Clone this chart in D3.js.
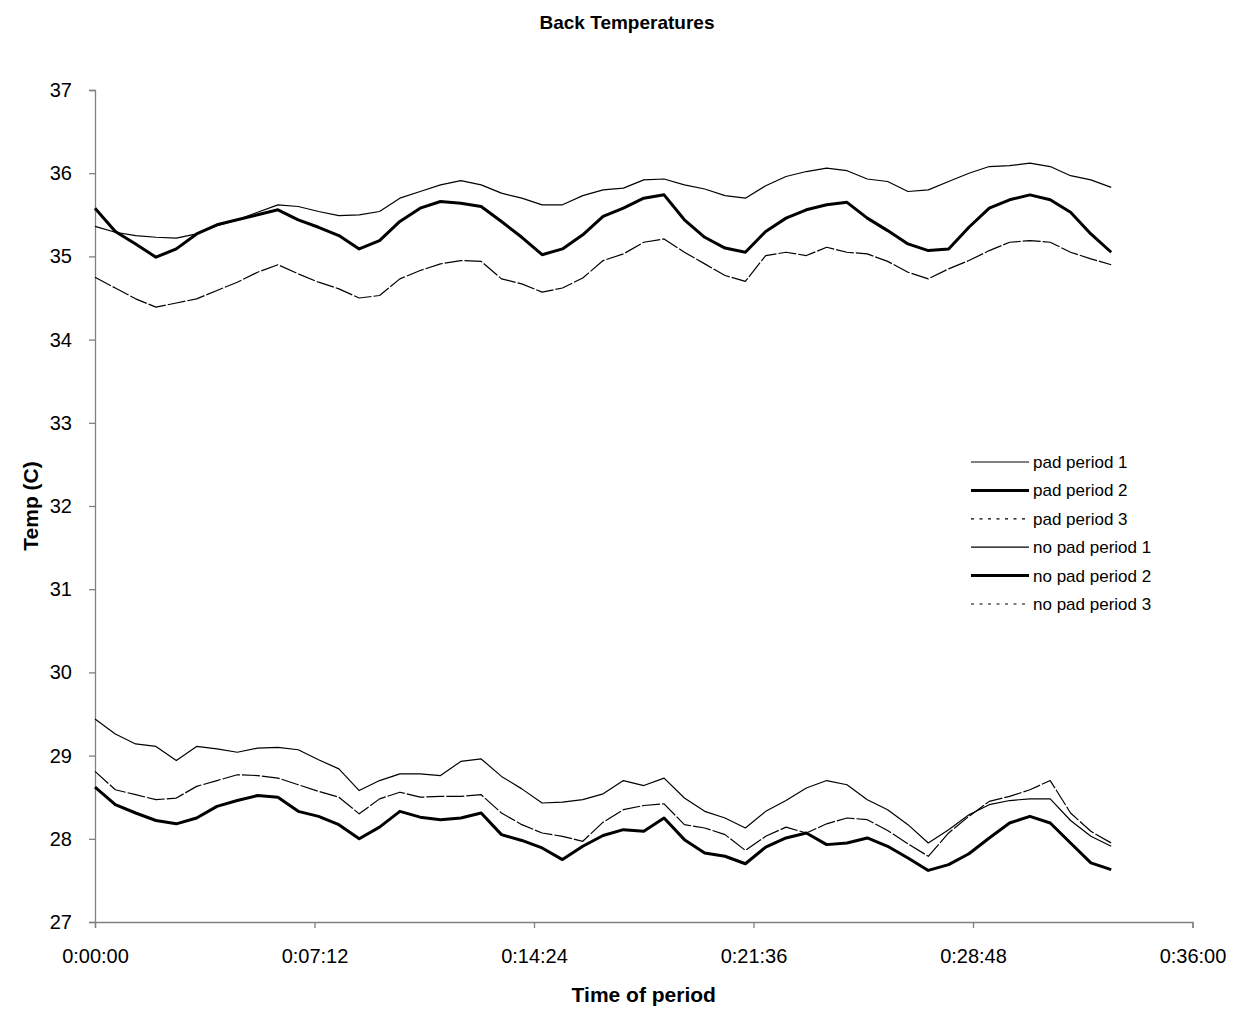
<!DOCTYPE html>
<html>
<head>
<meta charset="utf-8">
<script src="https://cdn.jsdelivr.net/npm/d3@7"></script>
<style>
  html, body { margin: 0; padding: 0; background: #fff; }
  svg { display: block; font-family: "Liberation Sans", Arial, sans-serif; }
</style>
</head>
<body>
<div id="chart"></div>
<script>
// ---- data (time in seconds, sampled every 40 s) ----
const stepSeconds = 40;
const padPeriod1 = [35.36,35.29,35.25,35.23,35.22,35.27,35.37,35.44,35.53,35.62,35.60,35.54,35.49,35.50,35.54,35.70,35.78,35.86,35.91,35.86,35.76,35.70,35.62,35.62,35.73,35.80,35.82,35.92,35.93,35.86,35.81,35.73,35.70,35.85,35.96,36.02,36.06,36.03,35.93,35.90,35.78,35.80,35.90,36.00,36.08,36.09,36.12,36.08,35.97,35.92,35.83];
const padPeriod2 = [35.58,35.30,35.15,34.99,35.09,35.27,35.38,35.44,35.50,35.56,35.44,35.35,35.25,35.09,35.19,35.42,35.58,35.66,35.64,35.60,35.42,35.23,35.02,35.09,35.26,35.48,35.58,35.70,35.74,35.44,35.23,35.10,35.05,35.30,35.46,35.56,35.62,35.65,35.46,35.31,35.15,35.07,35.09,35.35,35.58,35.68,35.74,35.68,35.53,35.27,35.05];
const padPeriod3 = [34.75,34.62,34.49,34.39,34.44,34.49,34.59,34.69,34.81,34.90,34.79,34.69,34.61,34.50,34.53,34.73,34.83,34.91,34.95,34.94,34.73,34.67,34.57,34.62,34.74,34.95,35.03,35.17,35.21,35.05,34.91,34.77,34.70,35.01,35.05,35.01,35.11,35.05,35.03,34.94,34.81,34.73,34.85,34.95,35.07,35.17,35.19,35.17,35.05,34.97,34.90];
const noPadPeriod1 = [29.44,29.26,29.14,29.11,28.94,29.11,29.08,29.04,29.09,29.10,29.07,28.95,28.84,28.58,28.70,28.78,28.78,28.76,28.93,28.96,28.75,28.60,28.43,28.44,28.47,28.54,28.70,28.64,28.73,28.49,28.33,28.25,28.13,28.33,28.46,28.61,28.70,28.65,28.47,28.35,28.17,27.95,28.11,28.29,28.41,28.46,28.48,28.48,28.22,28.03,27.91];
const noPadPeriod2 = [28.62,28.41,28.31,28.22,28.18,28.25,28.39,28.46,28.52,28.50,28.33,28.27,28.17,28.00,28.14,28.33,28.26,28.23,28.25,28.31,28.05,27.98,27.89,27.75,27.91,28.04,28.11,28.09,28.25,27.99,27.83,27.79,27.70,27.90,28.01,28.07,27.93,27.95,28.01,27.91,27.77,27.62,27.69,27.82,28.01,28.19,28.27,28.19,27.95,27.71,27.63];
const noPadPeriod3 = [28.81,28.59,28.53,28.47,28.49,28.63,28.70,28.77,28.76,28.73,28.65,28.57,28.50,28.30,28.48,28.56,28.50,28.51,28.51,28.53,28.31,28.17,28.07,28.03,27.97,28.20,28.35,28.40,28.42,28.17,28.13,28.05,27.86,28.03,28.14,28.07,28.18,28.25,28.23,28.10,27.94,27.79,28.07,28.27,28.45,28.51,28.59,28.70,28.31,28.09,27.95];

const seriesNames = ["pad period 1","pad period 2","pad period 3","no pad period 1","no pad period 2","no pad period 3"];
const seriesValues = [padPeriod1,padPeriod2,padPeriod3,noPadPeriod1,noPadPeriod2,noPadPeriod3];
const yTicks = [27,28,29,30,31,32,33,34,35,36,37];
const xTickSeconds = [0,432,864,1296,1728,2160];
const xTickLabels = ["0:00:00","0:07:12","0:14:24","0:21:36","0:28:48","0:36:00"];

// styles per series: 0 thin, 1 thick, 2 dashed
const styleOf = i => i % 3;

const W = 1236, H = 1009;
const FONT = "'Liberation Sans', Arial, sans-serif";
const svg = d3.select("#chart").append("svg").attr("width", W).attr("height", H);

const x = d3.scaleLinear().domain([0, 2160]).range([95, 1192.5]);
const y = d3.scaleLinear().domain([27, 37]).range([922, 90]);

const axisColor = "#808080";

// x axis
const xAxis = d3.axisBottom(x).tickValues(xTickSeconds)
  .tickFormat((d, i) => xTickLabels[i]).tickSizeOuter(0).tickSize(6).tickPadding(21);
const gx = svg.append("g").attr("transform", `translate(0,${y(27)})`).call(xAxis);
gx.select(".domain").attr("stroke", axisColor).attr("stroke-width", 1.3);
gx.selectAll(".tick line").attr("stroke", axisColor).attr("stroke-width", 1.3);
gx.selectAll(".tick text").attr("fill", "#000").style("font-size", "20px").style("font-family", FONT);

// y axis
const yAxis = d3.axisLeft(y).tickValues(yTicks).tickSizeOuter(0).tickSize(6).tickPadding(17);
const gy = svg.append("g").attr("transform", `translate(${x(0)},0)`).call(yAxis);
gy.select(".domain").attr("stroke", axisColor).attr("stroke-width", 1.3);
gy.selectAll(".tick line").attr("stroke", axisColor).attr("stroke-width", 1.3);
gy.selectAll(".tick text").attr("fill", "#000").style("font-size", "20px").style("font-family", FONT);

// lines
const line = d3.line().x((d, i) => x(i * stepSeconds)).y(d => y(d));
const widths = [1.2, 3, 1.2];
seriesValues.forEach((vals, si) => {
  const s = styleOf(si);
  svg.append("path").datum(vals)
    .attr("d", line)
    .attr("fill", "none")
    .attr("stroke", "#000")
    .attr("stroke-width", widths[s])
    .attr("stroke-linejoin", "round")
    .attr("stroke-dasharray", s === 2 ? "18,2" : null);
});

// titles
svg.append("text").attr("x", 627).attr("y", 29).attr("text-anchor", "middle")
  .style("font-size", "19px").style("font-weight", "bold").text("Back Temperatures");
svg.append("text").attr("x", (x(0) + x(2160)) / 2).attr("y", 1002).attr("text-anchor", "middle")
  .style("font-size", "21px").style("font-weight", "bold").text("Time of period");
svg.append("text").attr("transform", `translate(38,${(y(27) + y(37)) / 2}) rotate(-90)`)
  .attr("text-anchor", "middle")
  .style("font-size", "21px").style("font-weight", "bold").text("Temp (C)");

// legend
const legend = svg.append("g");
seriesNames.forEach((name, i) => {
  const s = styleOf(i);
  const ly = 462 + i * 28.4;
  legend.append("line").attr("x1", 971).attr("x2", 1029).attr("y1", ly).attr("y2", ly)
    .attr("stroke", "#000").attr("stroke-width", s === 1 ? 3 : 1.2)
    .attr("stroke-dasharray", s === 2 ? "3,5.5" : null);
  legend.append("text").attr("x", 1033).attr("y", ly + 6)
    .style("font-size", "17px").text(name);
});
</script>
</body>
</html>
